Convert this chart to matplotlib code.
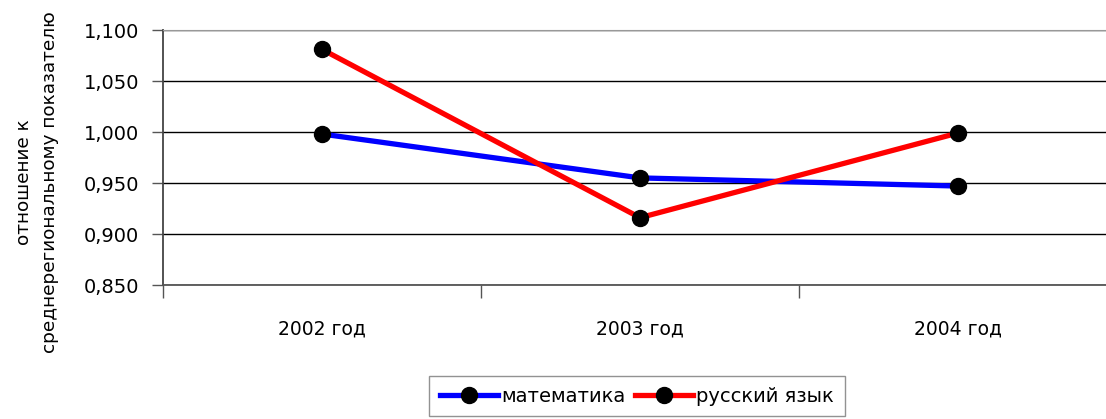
import matplotlib.pyplot as plt
from matplotlib.ticker import FuncFormatter

years = ["2002 год", "2003 год", "2004 год"]
math_vals = [0.998, 0.955, 0.947]
rus_vals = [1.081, 0.916, 0.999]
y_ticks = [0.850, 0.900, 0.950, 1.000, 1.050, 1.100]

W, H = 1106, 419
fig = plt.figure(figsize=(W / 100, H / 100), dpi=100)
# plot area runs slightly past the right edge, as in the source image
ax = fig.add_axes([163 / W, 1 - 285 / H, 954 / W, 255 / H])

x = range(len(years))
ax.plot(x, math_vals, color="#0000ff", lw=3.8, marker="o", ms=11.5,
        mfc="black", mec="black", label="математика", zorder=3)
ax.plot(x, rus_vals, color="#ff0000", lw=3.8, marker="o", ms=11.5,
        mfc="black", mec="black", label="русский язык", zorder=3)

ax.set_xlim(-0.5, 2.5)
ax.set_ylim(0.85, 1.10)
ax.set_yticks(y_ticks)
ax.yaxis.set_major_formatter(FuncFormatter(lambda v, p: f"{v:.3f}".replace(".", ",")))
ax.set_xticks([-0.5, 0.5, 1.5, 2.5])
ax.set_xticklabels([])
ax.set_xticks(list(x), minor=True)
ax.set_xticklabels(years, minor=True, fontsize=13.5)
ax.tick_params(axis="x", which="minor", length=0, pad=25)
ax.tick_params(axis="x", which="major", length=9, width=1, color="#555555")
ax.tick_params(axis="y", length=8, width=1, color="#555555", labelsize=14, pad=9)
ax.grid(True, axis="y", color="black", lw=1)

for side in ["top", "right"]:
    ax.spines[side].set_color("#999999")
ax.spines["left"].set_color("#444444")
ax.spines["bottom"].set_color("#555555")
ax.spines["left"].set_linewidth(1.3)
ax.spines["bottom"].set_linewidth(1.3)

fig.text(37 / W, 1 - 182 / H, "отношение к\nсреднерегиональному показателю",
         rotation=90, ha="center", va="center", fontsize=13.3, linespacing=1.55)

leg = fig.legend(loc="upper left", bbox_to_anchor=(429 / W, 1 - 376 / H),
                 ncol=2, frameon=True, fancybox=False, prop={"size": 14},
                 handlelength=3.0, handletextpad=0.15, columnspacing=0.5,
                 borderpad=0.55, borderaxespad=0)
leg.get_frame().set_edgecolor("#777777")
leg.get_frame().set_linewidth(1)

fig.savefig("out.png", dpi=100)
